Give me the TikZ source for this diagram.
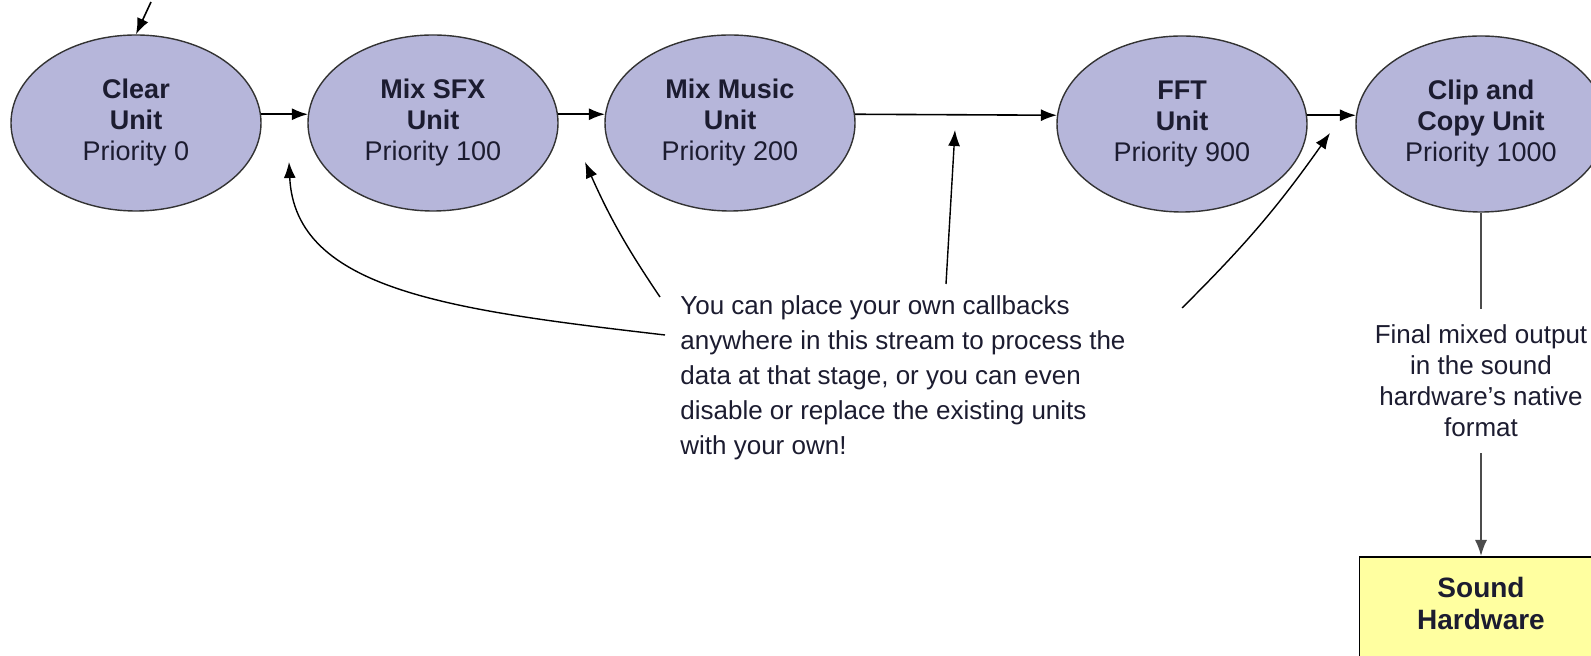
\documentclass[tikz,border=0pt]{standalone}
\usepackage{fontspec}
\setmainfont{Liberation Sans}
\usetikzlibrary{shapes.geometric,arrows.meta,positioning}
\definecolor{unitfill}{RGB}{182,182,218}
\definecolor{hwfill}{RGB}{255,255,160}
\definecolor{ink}{RGB}{28,28,48}
\begin{document}
\begin{tikzpicture}[x=0.5pt,y=-0.5pt,>={Latex[length=8pt,width=6pt]},
    unit/.style={ellipse,draw=black!80,line width=0.7pt,fill=unitfill,minimum width=125pt,minimum height=88pt,
        inner sep=0pt,align=center,text=ink,font=\fontsize{13.5}{15.5}\selectfont},
    hwbox/.style={rectangle,draw=black,line width=0.8pt,fill=hwfill,minimum width=121.5pt,minimum height=100pt,anchor=north},
    note/.style={align=left,inner sep=0pt,text=ink,font=\fontsize{13}{17.5}\selectfont},
    side/.style={align=center,inner sep=8pt,text=ink,font=\fontsize{13}{15.5}\selectfont},
    flow/.style={->,line width=0.8pt},
    hint/.style={->,line width=0.7pt}]
\clip (0,0) rectangle (1591,656);
\fill[white] (0,0) rectangle (1591,656);

\node[unit] (clear) at (136,123) {\textbf{Clear}\\\textbf{Unit}\\Priority 0};
\node[unit] (sfx) at (433,123) {\textbf{Mix SFX}\\\textbf{Unit}\\Priority 100};
\node[unit] (music) at (730,123) {\textbf{Mix Music}\\\textbf{Unit}\\Priority 200};
\node[unit] (fft) at (1182,124) {\textbf{FFT}\\\textbf{Unit}\\Priority 900};
\node[unit] (clip) at (1481,124) {\textbf{Clip and}\\\textbf{Copy Unit}\\Priority 1000};

\coordinate (feed) at (151,2);
\draw[flow] (feed)--(clear.north);
\draw[flow] (clear.4)--(sfx.176);
\draw[flow] (sfx.4)--(music.176);
\draw[flow] (music.4)--(fft.176);
\draw[flow] (fft.4)--(clip.176);

% output path
\node[side] (fmt) at (1481,381) {Final mixed output\\in the sound\\hardware’s native\\format};
\node[hwbox] (hw) at (1481,556) {};
\node[inner sep=0pt,align=center,text=ink,font=\fontsize{14}{16}\selectfont\bfseries] (hwname) at (1481,603) {Sound\\Hardware};
\draw[line width=0.8pt,black!70] (clip)--(fmt);
\draw[flow,black!70] (fmt)--(hw);

% callout
\node[note,anchor=west] (note) at (680,378) {You can place your own callbacks\\anywhere in this stream to process the\\data at that stage, or you can even\\disable or replace the existing units\\with your own!};
\coordinate (tipA) at (289,162);
\coordinate (tipB) at (585,162);
\coordinate (tipC) at (955,130);
\coordinate (tipD) at (1330,133);
\coordinate (fromA) at (665,335);
\coordinate (fromB) at (660,297);
\coordinate (fromC) at (946,284);
\coordinate (fromD) at (1182,308);
\draw[hint] (fromA) .. controls (450,310) and (295,290) .. (tipA);
\draw[hint] (fromB) to[bend left=5] (tipB);
\draw[hint] (fromC)--(tipC);
\draw[hint] (fromD) to[bend right=5] (tipD);

\end{tikzpicture}
\end{document}
